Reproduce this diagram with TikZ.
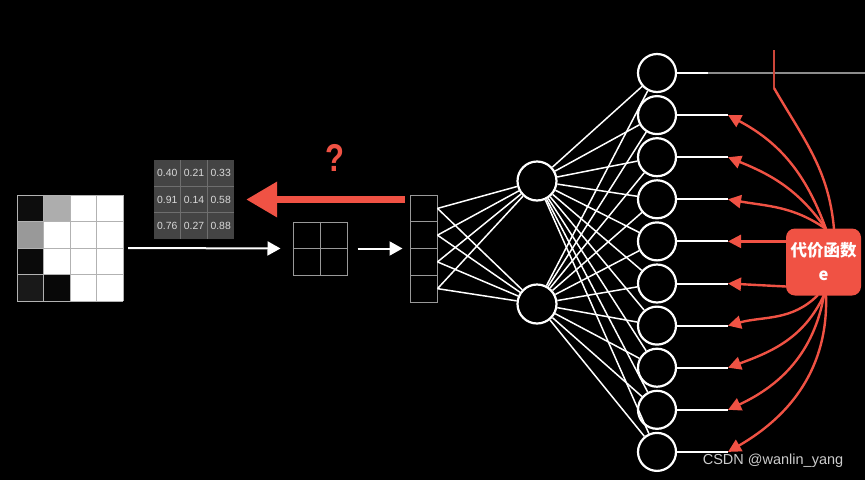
\documentclass[tikz,border=0pt]{standalone}
\usepackage{fontspec}
\setmainfont{Liberation Sans}
\newfontfamily\cjk{Noto Sans CJK SC}
\usetikzlibrary{arrows.meta}
\definecolor{cred}{RGB}{240,82,68}
\definecolor{mgray}{RGB}{68,68,68}
\definecolor{mline}{RGB}{110,110,110}
\begin{document}
\begin{tikzpicture}[x=1pt,y=-1pt,
  wline/.style={white,line width=1.5pt},
  warr/.style={white,line width=2pt,-{Triangle[length=13pt,width=14pt]}},
  rarr/.style={cred,line width=2.4pt,-{Triangle[length=13pt,width=13pt]}},
  neuron/.style={circle,draw=white,line width=2.2pt,minimum size=38pt,inner sep=0pt},
  colcell/.style={draw=gray!80,line width=1pt,minimum width=27pt,minimum height=26.75pt,inner sep=0pt},
  mtxt/.style={font=\fontsize{10.4}{11}\selectfont,text=white!85!black}
]
\fill[black] (0,0) rectangle (865,480);
\useasboundingbox (0,0) rectangle (865,480);

% input image grid
\foreach \r/\c/\col in {0/0/black!95!white,0/1/white!68!black,0/2/white,0/3/white,
  1/0/white!60!black,1/1/white,1/2/white,1/3/white,
  2/0/black!96!white,2/1/white,2/2/white,2/3/white,
  3/0/black!90!white,3/1/black!97!white,3/2/white,3/3/white}
  \fill[\col] ({17+\c*26.5},{195+\r*26.5}) rectangle ++(26.5,26.5);
\foreach \k in {0,1,2,3,4} {
  \draw[gray!60,line width=0.7pt] ({17+\k*26.5},195) -- ++(0,106);
  \draw[gray!60,line width=0.7pt] (17,{195+\k*26.5}) -- ++(106,0);
}
\node[minimum width=106pt,minimum height=106pt,inner sep=0pt] (inp) at (70,248) {};

% 3x3 matrix
\node[fill=mgray,minimum width=80pt,minimum height=79pt,inner sep=0pt] (m) at (194,199.5) {};
\foreach \k in {1,2} {
  \draw[mline,line width=0.8pt] ({154+\k*26.67},160) -- ++(0,79);
  \draw[mline,line width=0.8pt] (154,{160+\k*26.33}) -- ++(80,0);
}
\foreach \r/\c/\v in {0/0/0.40,0/1/0.21,0/2/0.33,1/0/0.91,1/1/0.14,1/2/0.58,2/0/0.76,2/1/0.27,2/2/0.88}
  \node[mtxt] at ({154+13.33+\c*26.67},{160+13.17+\r*26.33}) {\v};

% 2x2 grid
\node[draw=gray!80,line width=1pt,minimum width=54pt,minimum height=53pt,inner sep=0pt] (s) at (320,248.5) {};
\draw[gray!80,line width=1pt] (s.north) -- (s.south);
\draw[gray!80,line width=1pt] (s.west) -- (s.east);

% column
\foreach \i in {1,...,4}
  \node[colcell] (c\i) at (423.5,{195+13.4+26.75*(\i-1)}) {};

% white arrows
\draw[warr,shorten <=5pt,shorten >=12pt] (inp.east) -- (s.west);
\draw[warr,shorten <=10pt,shorten >=7pt] (s.east) -- (c3.west |- s.east);

% hidden neurons
\node[neuron,minimum size=39pt] (h1) at (537,181) {};
\node[neuron,minimum size=39pt] (h2) at (537,304) {};
\foreach \i in {1,...,4} {
  \draw[wline] (c\i.east) -- (h1);
  \draw[wline] (c\i.east) -- (h2);
}

% output neurons
\foreach \i in {1,...,10} {
  \node[neuron] (o\i) at (657,{73+42.1*(\i-1)}) {};
  \coordinate (t\i) at (728,{73+42.1*(\i-1)});
  \draw[wline] (h1) -- (o\i);
  \draw[wline] (h2) -- (o\i);
}
\foreach \i in {2,...,10}
  \draw[white,line width=2pt] (o\i.east) -- (t\i);
\draw[white,line width=2pt] (o1.east) -- ([xshift=-20pt]t1);
\draw[white!55!black,line width=1.2pt] ([xshift=-20pt]t1) -- (865,73);

% red back-propagation arrow
\draw[cred,line width=7pt,-{Triangle[length=31pt,width=34pt]},shorten <=5pt,shorten >=12pt]
  (c1.west |- m.east) -- (m.east);
\node[text=cred,font=\fontsize{31}{31}\selectfont\bfseries,yscale=1.25] (q) at (334.5,158) {?};

% cost function box
\node[fill=cred,rounded corners=9pt,minimum width=75pt,minimum height=67pt,inner sep=0pt,
  text=white,align=center,font=\cjk\bfseries\fontsize{16.5}{24}\selectfont] (e) at (823.5,262) {代价函数\\e};

% red arrows from cost function
\coordinate (etop) at (826,229);
\coordinate (ebot) at (824,295);
\draw[cred!85!black,line width=2.4pt] (774,50) -- (774,88);
\draw[cred,line width=2.4pt] (774,88) to[out=-60,in=95] (834,229);
\draw[rarr] (etop) to[out=110,in=-28] (t2);
\draw[rarr] (etop) to[out=125,in=-22] (t3);
\draw[rarr] (etop) to[out=145,in=-10] (t4);
\draw[rarr] (e.west |- t5) -- (t5);
\draw[rarr] ([yshift=-3pt]e.west |- t6) -- (t6);
\draw[rarr] ([xshift=-6pt]ebot) to[out=-135,in=15] (t7);
\draw[rarr] (ebot) to[out=-115,in=20] (t8);
\draw[rarr] (ebot) to[out=-100,in=25] (t9);
\draw[rarr] ([xshift=2pt]ebot) to[out=-88,in=30] (t10);

% watermark
\node[text=white!80!black,font=\fontsize{14.5}{15}\selectfont] (wm) at (773,461) {CSDN @wanlin\_yang};
\end{tikzpicture}
\end{document}
